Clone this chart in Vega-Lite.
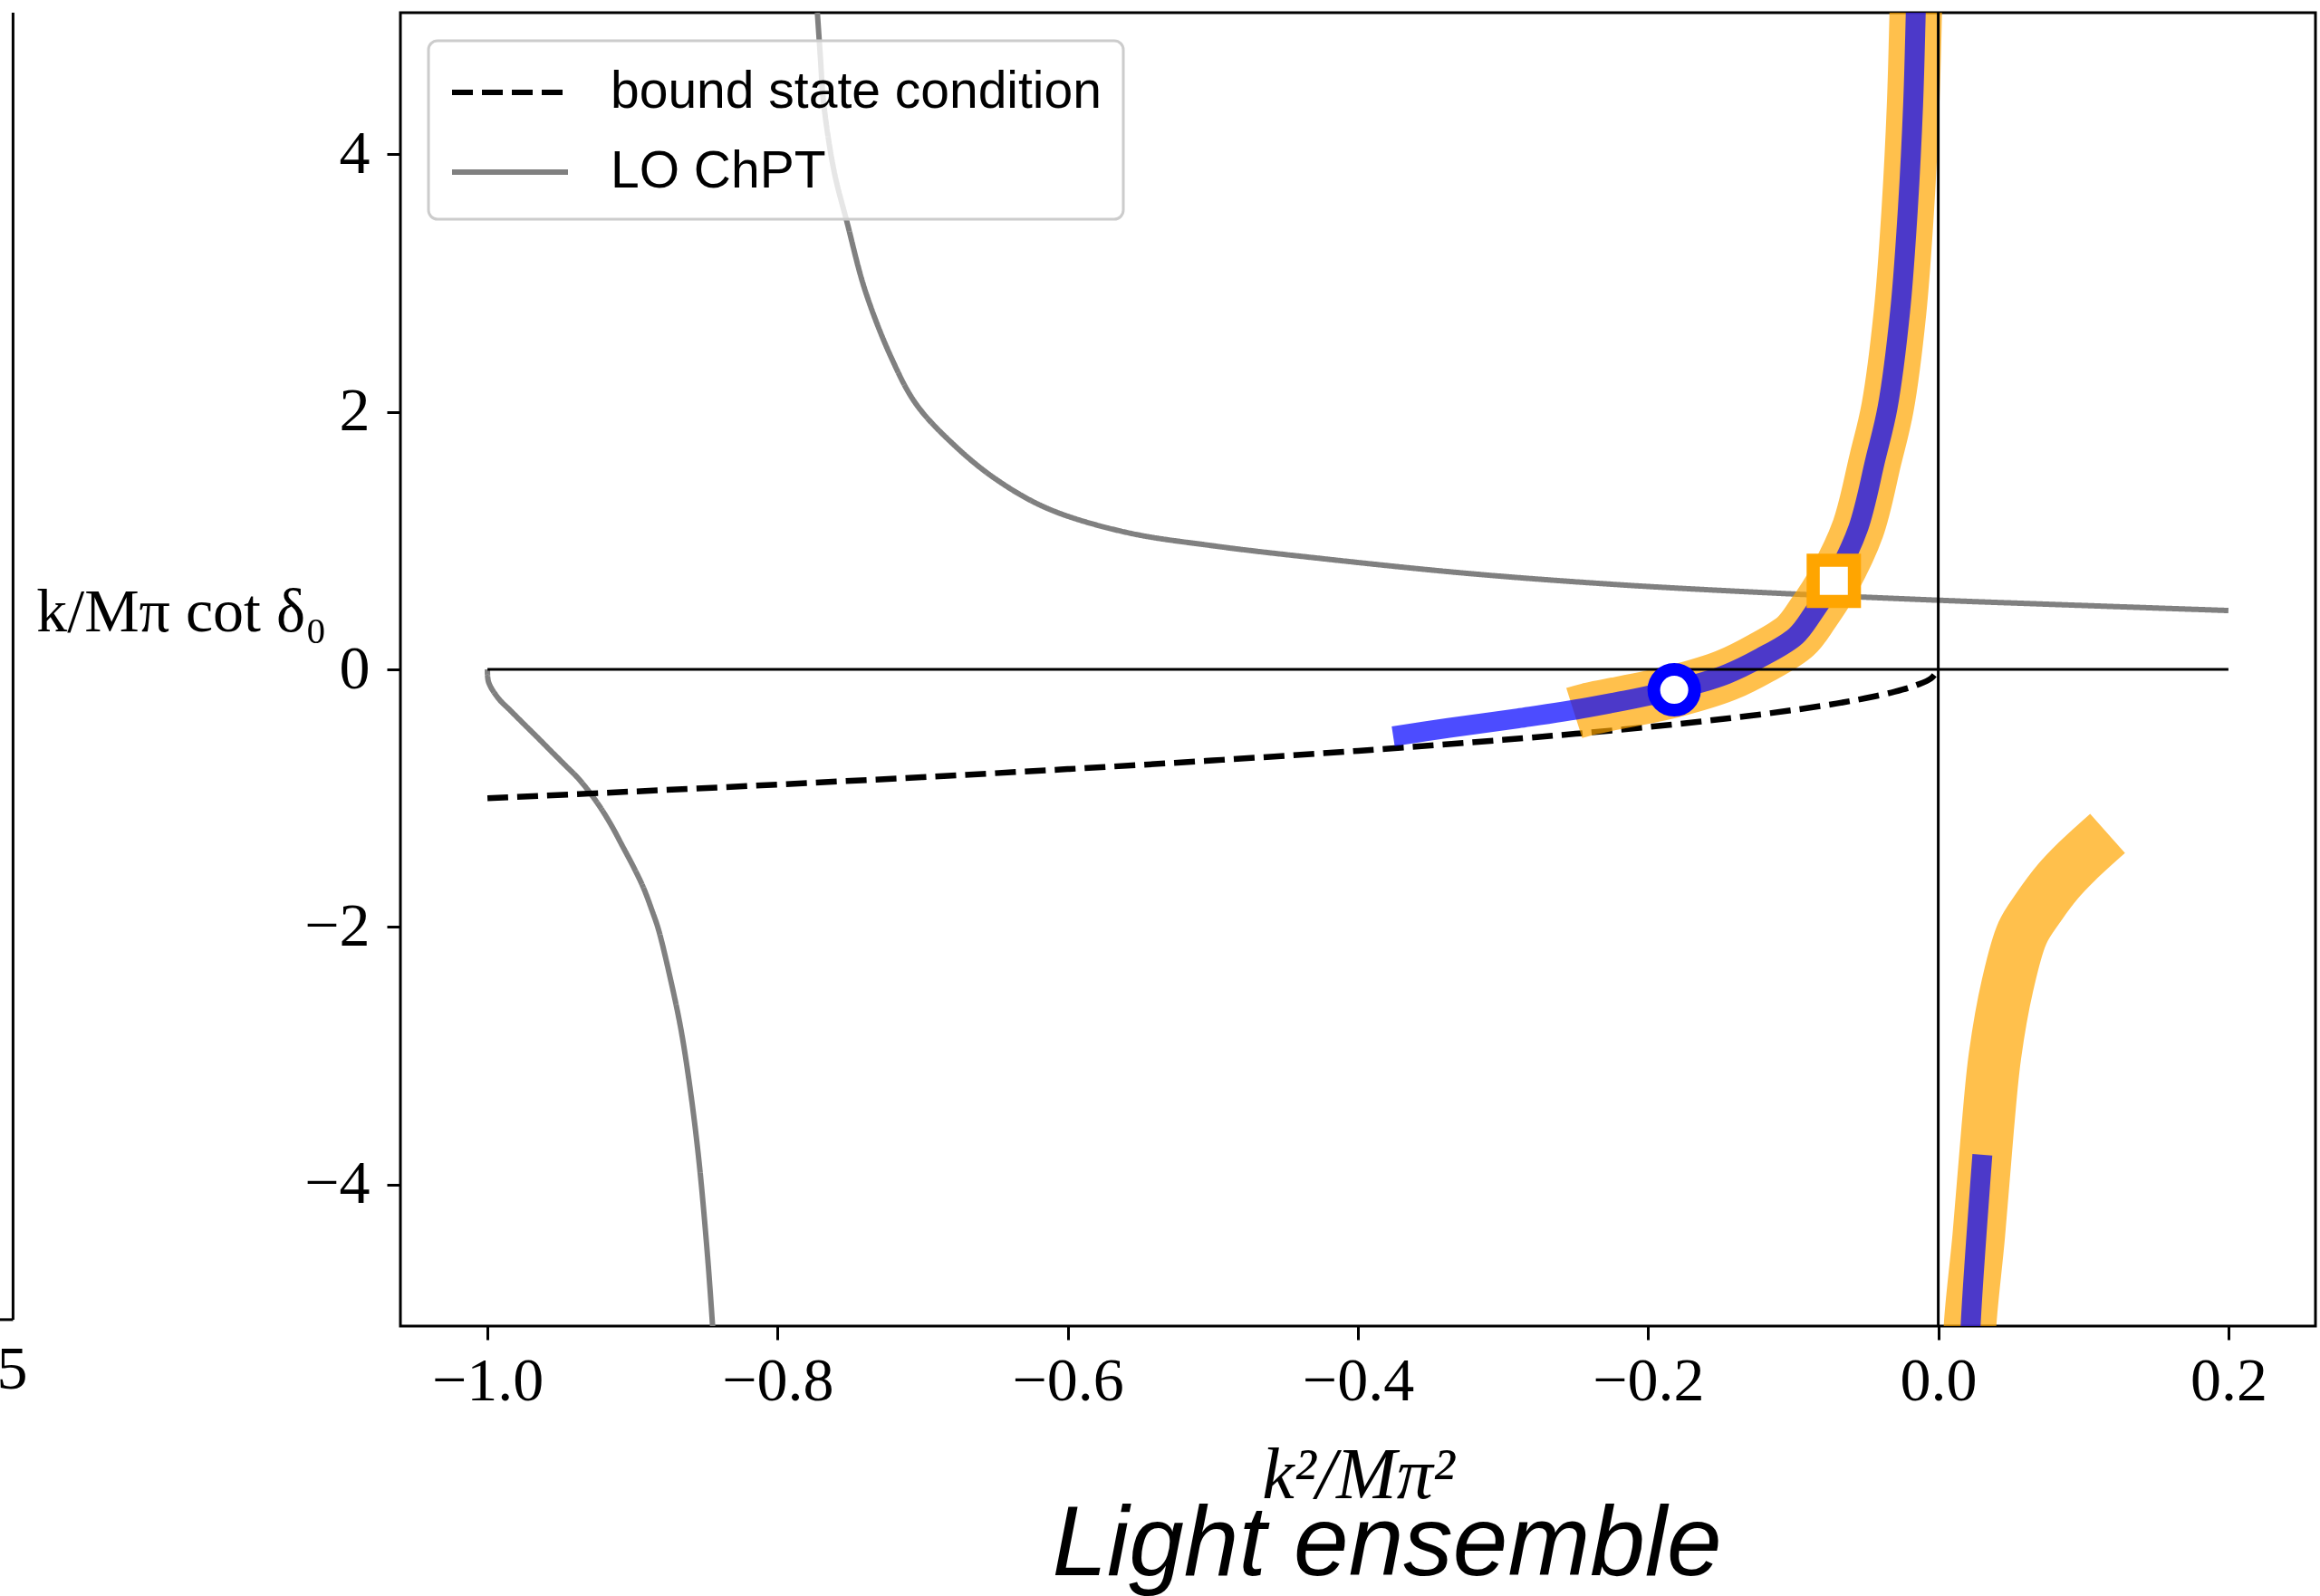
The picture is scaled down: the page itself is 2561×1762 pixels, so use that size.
{
  "$schema": "https://vega.github.io/schema/vega-lite/v6.json",
  "width": 2114,
  "height": 1450,
  "autosize": {"type": "none"},
  "padding": {"left": 442, "top": 14, "right": 5, "bottom": 298},
  "background": "white",
  "config": {
    "view": {"stroke": "black", "strokeWidth": 3},
    "axis": {
      "grid": false,
      "domain": false,
      "tickColor": "black",
      "tickWidth": 3,
      "tickSize": 15,
      "labelFont": "Liberation Serif",
      "labelFontSize": 68,
      "labelColor": "black",
      "titleColor": "black",
      "titleFont": "Liberation Serif",
      "titleFontWeight": "normal"
    },
    "legend": {"strokeWidth": 3}
  },
  "title": {
    "text": "Light ensemble",
    "orient": "bottom",
    "anchor": "middle",
    "frame": "group",
    "baseline": "alphabetic",
    "offset": 70,
    "dx": 32,
    "font": "Liberation Sans",
    "fontSize": 109,
    "fontStyle": "italic",
    "fontWeight": "normal",
    "color": "black"
  },
  "datasets": {
    "gray": [
      {"series": "LO ChPT", "seg": "u", "ord": 0, "x": -0.7726, "y": 5.1},
      {"series": "LO ChPT", "seg": "u", "ord": 1, "x": -0.7705, "y": 4.75},
      {"series": "LO ChPT", "seg": "u", "ord": 2, "x": -0.7683, "y": 4.4},
      {"series": "LO ChPT", "seg": "u", "ord": 3, "x": -0.7611, "y": 3.87},
      {"series": "LO ChPT", "seg": "u", "ord": 4, "x": -0.7521, "y": 3.47},
      {"series": "LO ChPT", "seg": "u", "ord": 5, "x": -0.7396, "y": 2.94},
      {"series": "LO ChPT", "seg": "u", "ord": 6, "x": -0.7216, "y": 2.42},
      {"series": "LO ChPT", "seg": "u", "ord": 7, "x": -0.7045, "y": 2.06},
      {"series": "LO ChPT", "seg": "u", "ord": 8, "x": -0.6786, "y": 1.745},
      {"series": "LO ChPT", "seg": "u", "ord": 9, "x": -0.6499, "y": 1.48},
      {"series": "LO ChPT", "seg": "u", "ord": 10, "x": -0.614, "y": 1.25},
      {"series": "LO ChPT", "seg": "u", "ord": 11, "x": -0.56, "y": 1.065},
      {"series": "LO ChPT", "seg": "u", "ord": 12, "x": -0.5, "y": 0.96},
      {"series": "LO ChPT", "seg": "u", "ord": 13, "x": -0.4245, "y": 0.86},
      {"series": "LO ChPT", "seg": "u", "ord": 14, "x": -0.324, "y": 0.745},
      {"series": "LO ChPT", "seg": "u", "ord": 15, "x": -0.2234, "y": 0.66},
      {"series": "LO ChPT", "seg": "u", "ord": 16, "x": -0.1229, "y": 0.598},
      {"series": "LO ChPT", "seg": "u", "ord": 17, "x": 0.0, "y": 0.537},
      {"series": "LO ChPT", "seg": "u", "ord": 18, "x": 0.078, "y": 0.505},
      {"series": "LO ChPT", "seg": "u", "ord": 19, "x": 0.2, "y": 0.457},
      {"series": "LO ChPT", "seg": "l", "ord": 0, "x": -1.0, "y": 0.0},
      {"series": "LO ChPT", "seg": "l", "ord": 1, "x": -0.9992, "y": -0.1},
      {"series": "LO ChPT", "seg": "l", "ord": 2, "x": -0.9924, "y": -0.226},
      {"series": "LO ChPT", "seg": "l", "ord": 3, "x": -0.9845, "y": -0.316},
      {"series": "LO ChPT", "seg": "l", "ord": 4, "x": -0.9749, "y": -0.424},
      {"series": "LO ChPT", "seg": "l", "ord": 5, "x": -0.9653, "y": -0.531},
      {"series": "LO ChPT", "seg": "l", "ord": 6, "x": -0.9558, "y": -0.639},
      {"series": "LO ChPT", "seg": "l", "ord": 7, "x": -0.9462, "y": -0.747},
      {"series": "LO ChPT", "seg": "l", "ord": 8, "x": -0.9382, "y": -0.837},
      {"series": "LO ChPT", "seg": "l", "ord": 9, "x": -0.9303, "y": -0.944},
      {"series": "LO ChPT", "seg": "l", "ord": 10, "x": -0.9223, "y": -1.07},
      {"series": "LO ChPT", "seg": "l", "ord": 11, "x": -0.9145, "y": -1.213},
      {"series": "LO ChPT", "seg": "l", "ord": 12, "x": -0.9068, "y": -1.375},
      {"series": "LO ChPT", "seg": "l", "ord": 13, "x": -0.8992, "y": -1.537},
      {"series": "LO ChPT", "seg": "l", "ord": 14, "x": -0.8924, "y": -1.698},
      {"series": "LO ChPT", "seg": "l", "ord": 15, "x": -0.8864, "y": -1.878},
      {"series": "LO ChPT", "seg": "l", "ord": 16, "x": -0.8821, "y": -2.021},
      {"series": "LO ChPT", "seg": "l", "ord": 17, "x": -0.8729, "y": -2.453},
      {"series": "LO ChPT", "seg": "l", "ord": 18, "x": -0.8664, "y": -2.81},
      {"series": "LO ChPT", "seg": "l", "ord": 19, "x": -0.8596, "y": -3.314},
      {"series": "LO ChPT", "seg": "l", "ord": 20, "x": -0.8539, "y": -3.852},
      {"series": "LO ChPT", "seg": "l", "ord": 21, "x": -0.8482, "y": -4.571},
      {"series": "LO ChPT", "seg": "l", "ord": 22, "x": -0.8448, "y": -5.1},
      {"series": "LO ChPT", "seg": "l", "ord": 23, "x": -0.8436, "y": -5.3}
    ],
    "dash": [
      {"series": "bound state condition", "seg": "d", "ord": 0, "x": -1.0, "y": -1.0},
      {"series": "bound state condition", "seg": "d", "ord": 1, "x": -0.9, "y": -0.9487},
      {"series": "bound state condition", "seg": "d", "ord": 2, "x": -0.8, "y": -0.8944},
      {"series": "bound state condition", "seg": "d", "ord": 3, "x": -0.7, "y": -0.8367},
      {"series": "bound state condition", "seg": "d", "ord": 4, "x": -0.6, "y": -0.7746},
      {"series": "bound state condition", "seg": "d", "ord": 5, "x": -0.5, "y": -0.7071},
      {"series": "bound state condition", "seg": "d", "ord": 6, "x": -0.4, "y": -0.6325},
      {"series": "bound state condition", "seg": "d", "ord": 7, "x": -0.3, "y": -0.5477},
      {"series": "bound state condition", "seg": "d", "ord": 8, "x": -0.25, "y": -0.5},
      {"series": "bound state condition", "seg": "d", "ord": 9, "x": -0.2, "y": -0.4472},
      {"series": "bound state condition", "seg": "d", "ord": 10, "x": -0.15, "y": -0.3873},
      {"series": "bound state condition", "seg": "d", "ord": 11, "x": -0.1, "y": -0.3162},
      {"series": "bound state condition", "seg": "d", "ord": 12, "x": -0.07, "y": -0.2646},
      {"series": "bound state condition", "seg": "d", "ord": 13, "x": -0.05, "y": -0.2236},
      {"series": "bound state condition", "seg": "d", "ord": 14, "x": -0.03, "y": -0.1732},
      {"series": "bound state condition", "seg": "d", "ord": 15, "x": -0.015, "y": -0.1225},
      {"series": "bound state condition", "seg": "d", "ord": 16, "x": -0.005, "y": -0.0707},
      {"series": "bound state condition", "seg": "d", "ord": 17, "x": 0.0, "y": 0.0}
    ],
    "orange": [
      {"seg": "m", "ord": 0, "x": -0.2509, "y": -0.339},
      {"seg": "m", "ord": 1, "x": -0.2418, "y": -0.31},
      {"seg": "m", "ord": 2, "x": -0.182, "y": -0.17},
      {"seg": "m", "ord": 3, "x": -0.1461, "y": -0.045},
      {"seg": "m", "ord": 4, "x": -0.1222, "y": 0.088},
      {"seg": "m", "ord": 5, "x": -0.0983, "y": 0.258},
      {"seg": "m", "ord": 6, "x": -0.0864, "y": 0.433},
      {"seg": "m", "ord": 7, "x": -0.072, "y": 0.689},
      {"seg": "m", "ord": 8, "x": -0.0553, "y": 1.093},
      {"seg": "m", "ord": 9, "x": -0.0433, "y": 1.632},
      {"seg": "m", "ord": 10, "x": -0.0349, "y": 2.036},
      {"seg": "m", "ord": 11, "x": -0.0263, "y": 2.779},
      {"seg": "m", "ord": 12, "x": -0.0209, "y": 3.587},
      {"seg": "m", "ord": 13, "x": -0.0173, "y": 4.395},
      {"seg": "m", "ord": 14, "x": -0.0155, "y": 5.1},
      {"seg": "m", "ord": 15, "x": -0.0148, "y": 5.4},
      {"seg": "r", "ord": 0, "x": 0.0215, "y": -5.4},
      {"seg": "r", "ord": 1, "x": 0.0219, "y": -5.1},
      {"seg": "r", "ord": 2, "x": 0.0279, "y": -4.4},
      {"seg": "r", "ord": 3, "x": 0.0341, "y": -3.56},
      {"seg": "r", "ord": 4, "x": 0.0391, "y": -3.0},
      {"seg": "r", "ord": 5, "x": 0.0478, "y": -2.45},
      {"seg": "r", "ord": 6, "x": 0.0579, "y": -2.05},
      {"seg": "r", "ord": 7, "x": 0.069, "y": -1.85},
      {"seg": "r", "ord": 8, "x": 0.0824, "y": -1.648},
      {"seg": "r", "ord": 9, "x": 0.0959, "y": -1.488},
      {"seg": "r", "ord": 10, "x": 0.1167, "y": -1.274}
    ],
    "blue": [
      {"seg": "m", "ord": 0, "x": -0.3757, "y": -0.52},
      {"seg": "m", "ord": 1, "x": -0.3375, "y": -0.455},
      {"seg": "m", "ord": 2, "x": -0.2897, "y": -0.38},
      {"seg": "m", "ord": 3, "x": -0.2418, "y": -0.296},
      {"seg": "m", "ord": 4, "x": -0.182, "y": -0.159},
      {"seg": "m", "ord": 5, "x": -0.1461, "y": -0.038},
      {"seg": "m", "ord": 6, "x": -0.1222, "y": 0.092},
      {"seg": "m", "ord": 7, "x": -0.0983, "y": 0.258},
      {"seg": "m", "ord": 8, "x": -0.0864, "y": 0.433},
      {"seg": "m", "ord": 9, "x": -0.072, "y": 0.689},
      {"seg": "m", "ord": 10, "x": -0.0553, "y": 1.093},
      {"seg": "m", "ord": 11, "x": -0.0433, "y": 1.632},
      {"seg": "m", "ord": 12, "x": -0.0349, "y": 2.036},
      {"seg": "m", "ord": 13, "x": -0.0263, "y": 2.779},
      {"seg": "m", "ord": 14, "x": -0.0209, "y": 3.587},
      {"seg": "m", "ord": 15, "x": -0.0173, "y": 4.395},
      {"seg": "m", "ord": 16, "x": -0.0155, "y": 5.1},
      {"seg": "m", "ord": 17, "x": -0.0148, "y": 5.4},
      {"seg": "r", "ord": 0, "x": 0.0217, "y": -5.4},
      {"seg": "r", "ord": 1, "x": 0.0223, "y": -5.1},
      {"seg": "r", "ord": 2, "x": 0.0304, "y": -3.77}
    ],
    "zero": [
      {"x": -1.0, "y": 0.0},
      {"x": 0.2, "y": 0.0}
    ],
    "vline": [
      {"x": 0.0, "y": -5.1, "y2": 5.1}
    ],
    "circle": [
      {"x": -0.182, "y": -0.159}
    ],
    "square": [
      {"x": -0.072, "y": 0.687}
    ],
    "fragline": [
      {"x": -1.327, "y": -5.05, "y2": 5.1}
    ],
    "fragstub": [
      {"x": -1.34, "x2": -1.327, "y": -5.05}
    ],
    "fragtext": [
      {"x": -1.3169, "y": -5.585, "label": "0.75"}
    ]
  },
  "encoding": {
    "x": {
      "field": "x",
      "type": "quantitative",
      "scale": {"domain": [-1.06, 0.26], "nice": false, "zero": false},
      "axis": {
        "values": [-1, -0.8, -0.6, -0.4, -0.2, 0, 0.2],
        "format": ".1f",
        "title": "k²/Mπ²",
        "titleFontSize": 80,
        "titleFontStyle": "italic",
        "titleX": 1057,
        "titleY": 189,
        "titleBaseline": "alphabetic",
        "titleAlign": "center",
        "labelPadding": 12,
        "labelFlush": false,
        "labelOverlap": false
      }
    },
    "y": {
      "field": "y",
      "type": "quantitative",
      "scale": {"domain": [-5.1, 5.1], "nice": false, "zero": false},
      "axis": {
        "values": [-4, -2, 0, 2, 4],
        "format": "d",
        "title": "k/Mπ cot δ₀",
        "titleAngle": 0,
        "titleAlign": "center",
        "titleBaseline": "middle",
        "titleX": -242,
        "titleY": 662,
        "titleFontSize": 68,
        "labelPadding": 19,
        "labelFlush": false,
        "labelOverlap": false
      }
    }
  },
  "layer": [
    {
      "data": {"name": "gray"},
      "mark": {"type": "line", "strokeWidth": 6, "clip": true, "strokeCap": "butt", "interpolate": "catmull-rom"},
      "encoding": {
        "color": {
          "field": "series",
          "type": "nominal",
          "scale": {"domain": ["bound state condition", "LO ChPT"], "range": ["black", "#808080"]},
          "legend": {
            "title": null,
            "orient": "none",
            "direction": "vertical",
            "legendX": 31,
            "legendY": 31,
            "symbolType": "M-2.133,0L2.133,0",
            "symbolSize": 3600,
            "symbolStrokeWidth": 6,
            "symbolOffset": 33,
            "labelFont": "Liberation Sans",
            "labelFontSize": 57,
            "labelColor": "black",
            "labelOffset": 78,
            "labelLimit": 1000,
            "rowPadding": 27,
            "padding": 24,
            "fillColor": "rgba(255,255,255,0.8)",
            "strokeColor": "#cccccc",
            "cornerRadius": 10
          }
        },
        "strokeDash": {
          "field": "series",
          "type": "nominal",
          "scale": {"domain": ["bound state condition", "LO ChPT"], "range": [[23, 10], [1, 0]]},
          "legend": {
            "title": null,
            "orient": "none",
            "direction": "vertical",
            "legendX": 31,
            "legendY": 31,
            "symbolType": "M-2.133,0L2.133,0",
            "symbolSize": 3600,
            "symbolStrokeWidth": 6,
            "symbolOffset": 33,
            "labelFont": "Liberation Sans",
            "labelFontSize": 57,
            "labelColor": "black",
            "labelOffset": 78,
            "labelLimit": 1000,
            "rowPadding": 27,
            "padding": 24,
            "fillColor": "rgba(255,255,255,0.8)",
            "strokeColor": "#cccccc",
            "cornerRadius": 10
          }
        },
        "detail": {"field": "seg", "type": "nominal"},
        "order": {"field": "ord", "type": "quantitative"}
      }
    },
    {
      "data": {"name": "dash"},
      "mark": {"type": "line", "strokeWidth": 6.5, "clip": true, "strokeCap": "butt", "interpolate": "catmull-rom"},
      "encoding": {
        "color": {"field": "series", "type": "nominal"},
        "strokeDash": {"field": "series", "type": "nominal"},
        "detail": {"field": "seg", "type": "nominal"},
        "order": {"field": "ord", "type": "quantitative"}
      }
    },
    {
      "data": {"name": "orange"},
      "mark": {"type": "line", "color": "#FFA500", "opacity": 0.7, "strokeWidth": 58, "strokeCap": "butt", "strokeJoin": "round", "clip": true, "interpolate": "catmull-rom"},
      "encoding": {
        "detail": {"field": "seg", "type": "nominal"},
        "order": {"field": "ord", "type": "quantitative"}
      }
    },
    {
      "data": {"name": "blue"},
      "mark": {"type": "line", "color": "#0000FF", "opacity": 0.7, "strokeWidth": 22, "strokeCap": "butt", "strokeJoin": "round", "clip": true, "interpolate": "catmull-rom"},
      "encoding": {
        "detail": {"field": "seg", "type": "nominal"},
        "order": {"field": "ord", "type": "quantitative"}
      }
    },
    {
      "data": {"name": "zero"},
      "mark": {"type": "line", "color": "black", "strokeWidth": 3},
      "encoding": {}
    },
    {
      "data": {"name": "vline"},
      "mark": {"type": "rule", "color": "black", "strokeWidth": 3},
      "encoding": {"y2": {"field": "y2"}}
    },
    {
      "data": {"name": "circle"},
      "mark": {"type": "point", "shape": "circle", "size": 2025, "filled": true, "fill": "white", "stroke": "#0000FF", "strokeWidth": 14, "opacity": 1, "fillOpacity": 1, "strokeOpacity": 1},
      "encoding": {}
    },
    {
      "data": {"name": "square"},
      "mark": {"type": "point", "shape": "square", "size": 2070, "filled": true, "fill": "white", "stroke": "#FFA500", "strokeWidth": 14.5, "opacity": 1, "fillOpacity": 1, "strokeOpacity": 1},
      "encoding": {}
    },
    {
      "data": {"name": "fragline"},
      "mark": {"type": "rule", "color": "black", "strokeWidth": 3, "clip": false},
      "encoding": {"y2": {"field": "y2"}}
    },
    {
      "data": {"name": "fragstub"},
      "mark": {"type": "rule", "color": "black", "strokeWidth": 3, "clip": false},
      "encoding": {"x2": {"field": "x2"}}
    },
    {
      "data": {"name": "fragtext"},
      "mark": {"type": "text", "align": "right", "baseline": "alphabetic", "font": "Liberation Serif", "fontSize": 68, "color": "black", "clip": false},
      "encoding": {"text": {"field": "label"}}
    }
  ]
}
